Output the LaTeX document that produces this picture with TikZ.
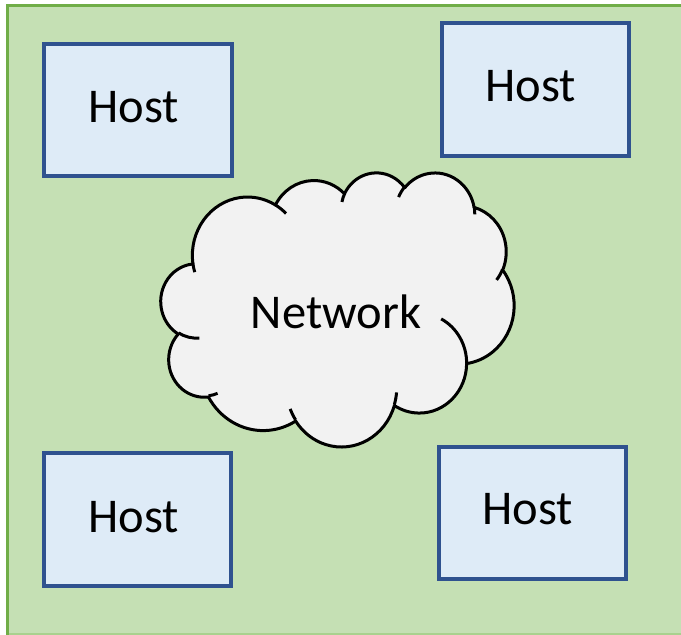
\documentclass[tikz,border=0pt]{standalone}
\usepackage{fontspec}
\setmainfont{Carlito}
\definecolor{bggreen}{HTML}{C5E0B4}
\definecolor{bgborder}{HTML}{70AD47}
\definecolor{bgbottom}{HTML}{A9D18E}
\definecolor{hostfill}{HTML}{DEEBF7}
\definecolor{hostline}{HTML}{2F528F}
\definecolor{cloudfill}{HTML}{F2F2F2}
\newcommand\oocalc[5]{%
  \pgfmathsetmacro\ooS{atan2(#2*sin(#4),#3*cos(#4))}%
  \pgfmathsetmacro\ooE{atan2(#2*sin(#4+#5),#3*cos(#4+#5))}%
  \pgfmathsetmacro\ooD{mod(\ooE-\ooS+720,360)}%
  \expandafter\global\expandafter\let\csname oo#1s\endcsname\ooS
  \expandafter\global\expandafter\let\csname oo#1d\endcsname\ooD}
\begin{document}
\begin{tikzpicture}[x=1pt,y=-1pt,
  hostbox/.style={draw=hostline,fill=hostfill,line width=3.2pt,inner sep=0pt},
  hosttext/.style={font=\fontsize{48.5}{52}\selectfont,anchor=base,inner sep=0pt},
  cloudline/.style={draw=black,fill=cloudfill,line width=3pt,line join=round},
  cloudhook/.style={draw=black,line width=3pt}]
\useasboundingbox (0,0) rectangle (681,635);
% background
\fill[bggreen] (6,4) rectangle (681,635);
\draw[bgbottom,line width=1.2pt] (6,634) -- (681,634);
\draw[bgborder,line width=3pt] (7.5,635) -- (7.5,5.5) -- (681,5.5);
% hosts
\node[hostbox,minimum width=188,minimum height=132] (h1) at (138,110) {};
\node[hostbox,minimum width=187,minimum height=133] (h2) at (535.5,89.5) {};
\node[hostbox,minimum width=187,minimum height=133] (h3) at (137.5,519.5) {};
\node[hostbox,minimum width=187,minimum height=132] (h4) at (532.5,513) {};
\node[hosttext] (t1) at (134,122) {Host};
\node[hosttext] (t2) at (531,101) {Host};
\node[hosttext] (t3) at (134,532) {Host};
\node[hosttext] (t4) at (528,524) {Host};
% cloud
\oocalc{A}{67.53}{91.90}{-190.48748}{123.78053}
\oocalc{B}{53.33}{72.67}{-144.10238}{89.94523}
\oocalc{C}{43.65}{59.45}{-145.80792}{99.72302}
\oocalc{D}{48.57}{65.95}{-130.98607}{117.24173}
\oocalc{E}{53.33}{72.73}{-78.70888}{109.02692}
\oocalc{F}{67.75}{92.20}{-46.26725}{130.269}
\oocalc{G}{57.85}{78.67}{0.62502}{114.03333}
\oocalc{H}{67.52}{92.15}{22.4516}{115.17255}
\oocalc{I}{77.20}{105.43}{66.24263}{75.71102}
\oocalc{J}{43.60}{59.18}{-274.94208}{146.73557}
\oocalc{K}{43.45}{59.45}{-246.8285}{152.51885}
\oocalc{a}{43.45}{59.45}{86.742}{26.4295}
\oocalc{b}{43.60}{59.18}{73.61047}{11.44747}
\oocalc{c}{67.52}{92.15}{137.62415}{14.0811}
\oocalc{d}{67.52}{92.15}{6.45327}{15.99835}
\oocalc{f}{53.33}{72.73}{30.31803}{17.00742}
\oocalc{g}{48.57}{65.95}{-13.74433}{14.8589}
\oocalc{h}{48.57}{65.95}{-149.18145}{18.19537}
\oocalc{i}{43.65}{59.45}{-163.49427}{17.68635}
\oocalc{j}{67.53}{91.90}{-66.70695}{12.31935}
\oocalc{k}{67.53}{91.90}{157.65435}{11.85817}
\begin{scope}[shift={(161,172)},xscale=0.81713,yscale=0.63426]
\draw[cloudline] (39,143.7)
  arc[start angle=\ooAs,delta angle=\ooAd,x radius=67.53,y radius=91.90]
  arc[start angle=\ooBs,delta angle=\ooBd,x radius=53.33,y radius=72.67]
  arc[start angle=\ooCs,delta angle=\ooCd,x radius=43.65,y radius=59.45]
  arc[start angle=\ooDs,delta angle=\ooDd,x radius=48.57,y radius=65.95]
  arc[start angle=\ooEs,delta angle=\ooEd,x radius=53.33,y radius=72.73]
  arc[start angle=\ooFs,delta angle=\ooFd,x radius=67.75,y radius=92.20]
  coordinate (jFG)
  arc[start angle=\ooGs,delta angle=\ooGd,x radius=57.85,y radius=78.67]
  arc[start angle=\ooHs,delta angle=\ooHd,x radius=67.52,y radius=92.15]
  arc[start angle=\ooIs,delta angle=\ooId,x radius=77.20,y radius=105.43]
  arc[start angle=\ooJs,delta angle=\ooJd,x radius=43.60,y radius=59.18]
  arc[start angle=\ooKs,delta angle=\ooKd,x radius=43.45,y radius=59.45]
  -- cycle;
\draw[cloudhook] (46.93,261.77) arc[start angle=\ooas,delta angle=\ooad,x radius=43.45,y radius=59.45];
\draw[cloudhook] (69.28,348.99) arc[start angle=\oobs,delta angle=\oobd,x radius=43.60,y radius=59.18];
\draw[cloudhook] (164.78,390.90) arc[start angle=\oocs,delta angle=\oocd,x radius=67.52,y radius=92.15];
\draw[cloudhook] (288.27,347.51) arc[start angle=\oods,delta angle=\oodd,x radius=67.52,y radius=92.15];
\draw[cloudhook] (jFG) arc[start angle=\ooGs,delta angle=-63,x radius=57.85,y radius=78.67];
\draw[cloudhook] (417.98,153.54) arc[start angle=\oofs,delta angle=\oofd,x radius=53.33,y radius=72.73];
\draw[cloudhook] (383.24,54.26) arc[start angle=\oogs,delta angle=\oogd,x radius=48.57,y radius=65.95];
\draw[cloudhook] (290.78,39.52) arc[start angle=\oohs,delta angle=\oohd,x radius=48.57,y radius=65.95];
\draw[cloudhook] (221.41,47.20) arc[start angle=\oois,delta angle=\ooid,x radius=43.65,y radius=59.45];
\draw[cloudhook] (140.00,51.92) arc[start angle=\oojs,delta angle=\oojd,x radius=67.53,y radius=91.90];
\draw[cloudhook] (41.27,157.89) arc[start angle=\ooks,delta angle=\ookd,x radius=67.53,y radius=91.90];
\end{scope}
\node[hosttext] (net) at (336,328) {Network};
\end{tikzpicture}
\end{document}
